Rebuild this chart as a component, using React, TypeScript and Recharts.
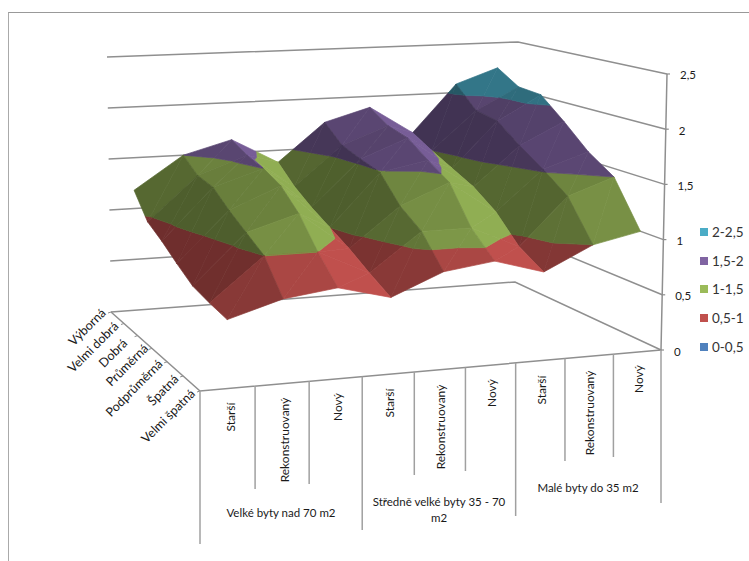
import { Legend, Scatter, ScatterChart, XAxis, YAxis } from "recharts";

const WIDTH = 749;
const HEIGHT = 561;
const AXIS_X = 668;

const housingTypes = ["Starší", "Rekonstruovaný", "Nový"];
const sizeGroups = ["Velké byty nad 70 m2", "Středně velké byty 35 - 70", "Malé byty do 35 m2"];
const ratings = ["Výborná", "Velmi dobrá", "Dobrá", "Průměrná", "Podprůměrná", "Špatná", "Velmi špatná"];
const valueTicks = [0, 0.5, 1, 1.5, 2, 2.5];

// one list per rating, nine apartment categories each
const vyborna = [1.18, 1.5, 1.63, 1.38, 1.76, 1.89, 1.61, 2.09, 2.24];
const velmiDobra = [0.96, 1.38, 1.55, 1.22, 1.6, 1.77, 1.5, 1.88, 2.1];
const dobra = [0.87, 1.35, 1.5, 1.1, 1.54, 1.72, 1.4, 1.84, 2.08];
const prumerna = [0.76, 1.22, 1.42, 1.0, 1.49, 1.58, 1.3, 1.67, 1.88];
const podprumerna = [0.66, 1.11, 1.25, 0.9, 1.26, 1.45, 1.15, 1.52, 1.66];
const spatna = [0.62, 1.0, 1.0, 0.78, 1.12, 1.12, 0.92, 1.35, 1.5];
const velmiSpatna = [0.59, 0.73, 0.79, 0.67, 0.86, 0.92, 0.79, 1.0, 1.09];
const surface = [vyborna, velmiDobra, dobra, prumerna, podprumerna, spatna, velmiSpatna];

const bandNames = ["0-0,5", "0,5-1", "1-1,5", "1,5-2", "2-2,5"];
const bandLimits = [0, 0.5, 1, 1.5, 2, 2.5];
const bandColors = ["#4F81BD", "#C0504D", "#9BBB59", "#8064A2", "#4BACC6"];

type Pt = { x: number; y: number };
type Corners = [number, number][];

// 3D box corners on screen: back-left, back-right, front-right, front-left
const floorCorners: Corners = [[111, 312], [515, 282], [661, 350], [200, 391]];
const ceilingCorners: Corners = [[107, 57], [518, 42], [667, 74], [195, 98]];

function planeMap(q: Corners) {
  const [[x0, y0], [x1, y1], [x2, y2], [x3, y3]] = q;
  const dx1 = x1 - x2, dx2 = x3 - x2, sx = x0 - x1 + x2 - x3;
  const dy1 = y1 - y2, dy2 = y3 - y2, sy = y0 - y1 + y2 - y3;
  const det = dx1 * dy2 - dx2 * dy1;
  const g = (sx * dy2 - dx2 * sy) / det;
  const h = (dx1 * sy - sx * dy1) / det;
  const a = x1 - x0 + g * x1, b = x3 - x0 + h * x3;
  const d = y1 - y0 + g * y1, e = y3 - y0 + h * y3;
  return (u: number, v: number): Pt => {
    const w = g * u + h * v + 1;
    return { x: (a * u + b * v + x0) / w, y: (d * u + e * v + y0) / w };
  };
}

const floorAt = planeMap(floorCorners);
const ceilingAt = planeMap(ceilingCorners);

function project(u: number, v: number, z: number): Pt {
  const lo = floorAt(u, v);
  const hi = ceilingAt(u, v);
  const t = z / 2.5;
  return { x: lo.x + (hi.x - lo.x) * t, y: lo.y + (hi.y - lo.y) * t };
}

type Vert = { c: number; r: number; z: number };

function clipBelow(poly: Vert[], limit: number, keepBelow: boolean) {
  const out: Vert[] = [];
  poly.forEach((p, i) => {
    const q = poly[(i + 1) % poly.length];
    const pIn = keepBelow ? p.z <= limit : p.z >= limit;
    const qIn = keepBelow ? q.z <= limit : q.z >= limit;
    if (pIn) out.push(p);
    if (pIn !== qIn) {
      const t = (limit - p.z) / (q.z - p.z);
      out.push({ c: p.c + (q.c - p.c) * t, r: p.r + (q.r - p.r) * t, z: limit });
    }
  });
  return out;
}

function shadeColor(hex: string, s: number) {
  const n = parseInt(hex.slice(1), 16);
  const ch = [(n >> 16) & 255, (n >> 8) & 255, n & 255].map((v) => Math.round(v * s));
  return `rgb(${ch.join(",")})`;
}

// faces are listed far to near: right columns first, back rows first
function buildFacets() {
  const facets: { points: Pt[]; color: string }[] = [];
  const at = (c: number, r: number): Vert => ({ c, r, z: surface[r][c] });
  for (let c = 7; c >= 0; c--) {
    for (let r = 0; r < 6; r++) {
      const a = at(c, r), b = at(c + 1, r), d = at(c + 1, r + 1), e = at(c, r + 1);
      // light comes from the right, so slopes rising to the right stay dark
      const dzdc = (b.z - a.z + d.z - e.z) / 2;
      const dzdr = (e.z - a.z + d.z - b.z) / 2;
      const s = Math.min(0.93, Math.max(0.5, 0.78 - 0.7 * dzdc - 0.2 * dzdr));
      [[a, b, e], [b, d, e]].forEach((tri) => {
        bandNames.forEach((_, i) => {
          let poly = clipBelow(tri, bandLimits[i], false);
          if (poly.length) poly = clipBelow(poly, bandLimits[i + 1], true);
          if (poly.length < 3) return;
          facets.push({
            points: poly.map((p) => project((p.c + 0.5) / 9, p.r / 6, p.z)),
            color: shadeColor(bandColors[i], i === 1 ? Math.min(1, s + 0.08) : s),
          });
        });
      });
    }
  }
  return facets;
}

const facets = buildFacets();

const wallLines: Pt[][] = [
  ...valueTicks.map((z) => [project(0, 0, z), project(1, 0, z), project(1, 1, z)]),
  [project(0, 0, 0), project(0, 1, 0), project(1, 1, 0)],
];

// the value axis leans a little, so its line follows the box edge
const valueAxisLine = valueTicks.map((v) => ({ x: project(1, 1, v).x, y: v }));

// how far each divider hangs below the front floor edge
const dividerBottoms = [544, 489, 484, 530, 475, 471, 516, 461, 457, 503];
const dividerLines: Pt[][] = dividerBottoms.map((bottom, i) => {
  const top = floorAt(i / 9, 1);
  return [top, { x: top.x, y: bottom }];
});

const rowTicks: Pt[][] = ratings.map((_, r) => {
  const p = floorAt(0, r / 6);
  return [p, { x: p.x - 3, y: p.y + 1 }];
});

const ratingLabels = [
  { x: 87, y: 327 }, { x: 93, y: 347 }, { x: 113, y: 353 }, { x: 127, y: 365 },
  { x: 134, y: 388 }, { x: 163, y: 390 }, { x: 168, y: 416 },
].map((p, i) => ({ ...p, label: ratings[i] }));

const typeLabels = [
  { x: 230, y: 417 }, { x: 284, y: 440 }, { x: 337, y: 407 },
  { x: 389, y: 403 }, { x: 440, y: 427 }, { x: 491, y: 393 },
  { x: 541, y: 390 }, { x: 589, y: 413 }, { x: 638, y: 379 },
].map((p, i) => ({ ...p, label: housingTypes[i % 3] }));

const groupLabels = [
  { x: 281, y: 512, label: sizeGroups[0] },
  { x: 439, y: 501, label: sizeGroups[1] },
  { x: 439, y: 517, label: "m2" },
  { x: 588, y: 487, label: sizeGroups[2] },
];

const FONT = "Lato, Carlito, sans-serif";

function textShape(angle: number, size: number) {
  return (props: any) => (
    <text
      x={props.cx}
      y={props.cy}
      transform={angle ? `rotate(${angle} ${props.cx} ${props.cy})` : undefined}
      textAnchor="middle"
      dominantBaseline="central"
      fontFamily={FONT}
      fontSize={size}
      fill="#1a1a1a"
    >
      {props.payload.label}
    </text>
  );
}

function ValueTick({ y, payload }: any) {
  const axisPt = project(1, 1, payload.value);
  return (
    <g>
      <line x1={axisPt.x} y1={y} x2={axisPt.x + 3} y2={y} stroke="#8c8c8c" strokeWidth={1.2} />
      <text x={axisPt.x + 13} y={y + 1} dominantBaseline="central" fontFamily={FONT} fontSize={11.5} fill="#1a1a1a">
        {String(payload.value).replace(".", ",")}
      </text>
    </g>
  );
}

function BandLegend() {
  return (
    <div style={{ fontFamily: FONT, fontSize: 13.5, color: "#333", whiteSpace: "nowrap" }}>
      {bandNames
        .map((name, i) => ({ name, color: bandColors[i] }))
        .reverse()
        .map(({ name, color }) => (
          <div key={name} style={{ display: "flex", alignItems: "center", height: 28.6 }}>
            <span style={{ width: 8, height: 8, background: color, marginRight: 4 }} />
            {name}
          </div>
        ))}
    </div>
  );
}

const noMark = () => <g />;

function drawLine(points: Pt[], key: string, stroke: string, width: number) {
  return (
    <Scatter
      key={key}
      yAxisId="px"
      data={points}
      line={{ stroke, strokeWidth: width }}
      shape={noMark}
      isAnimationActive={false}
    />
  );
}

export default function App() {
  return (
    <div style={{ position: "absolute", left: 0, top: 0, width: WIDTH, height: HEIGHT, background: "#fff", overflow: "hidden" }}>
      {/* frame around the chart */}
      <div style={{ position: "absolute", left: 8, top: 12, width: 741, height: 560, boxSizing: "border-box", borderTop: "1.5px solid #999", borderLeft: "1.5px solid #aaa" }} />
      <ScatterChart width={WIDTH} height={HEIGHT} margin={{ top: 0, right: 0, bottom: 0, left: 0 }}>
        <XAxis type="number" dataKey="x" domain={[0, AXIS_X]} hide />
        <YAxis yAxisId="px" type="number" dataKey="y" domain={[0, HEIGHT]} reversed hide />
        <YAxis
          yAxisId="value"
          orientation="right"
          type="number"
          dataKey="y"
          width={WIDTH - AXIS_X}
          domain={[-1.911, 3.17]}
          allowDataOverflow
          ticks={valueTicks}
          axisLine={false}
          tickLine={false}
          tick={<ValueTick />}
        />
        <Legend
          layout="horizontal"
          align="center"
          verticalAlign="middle"
          wrapperStyle={{ position: "absolute", left: 700, top: 218, width: 48 }}
          content={<BandLegend />}
        />
        {wallLines.map((pts, i) => drawLine(pts, `wall-${i}`, "#8f8f8f", 1.5))}
        {rowTicks.map((pts, i) => drawLine(pts, `tick-${i}`, "#8f8f8f", 1))}
        {dividerLines.map((pts, i) => drawLine(pts, `div-${i}`, "#a0a0a0", 1.5))}
        <Scatter
          yAxisId="value"
          data={valueAxisLine}
          line={{ stroke: "#8f8f8f", strokeWidth: 1.5 }}
          shape={noMark}
          isAnimationActive={false}
        />
        {facets.map((f, i) => (
          <Scatter
            key={`face-${i}`}
            yAxisId="px"
            data={f.points}
            line={{ fill: f.color, stroke: f.color, strokeWidth: 0.7 }}
            lineJointType="linearClosed"
            shape={noMark}
            isAnimationActive={false}
          />
        ))}
        <Scatter yAxisId="px" data={ratingLabels} shape={textShape(-45, 12.5)} isAnimationActive={false} />
        <Scatter yAxisId="px" data={typeLabels} shape={textShape(-90, 12)} isAnimationActive={false} />
        <Scatter yAxisId="px" data={groupLabels} shape={textShape(0, 11.5)} isAnimationActive={false} />
      </ScatterChart>
    </div>
  );
}
